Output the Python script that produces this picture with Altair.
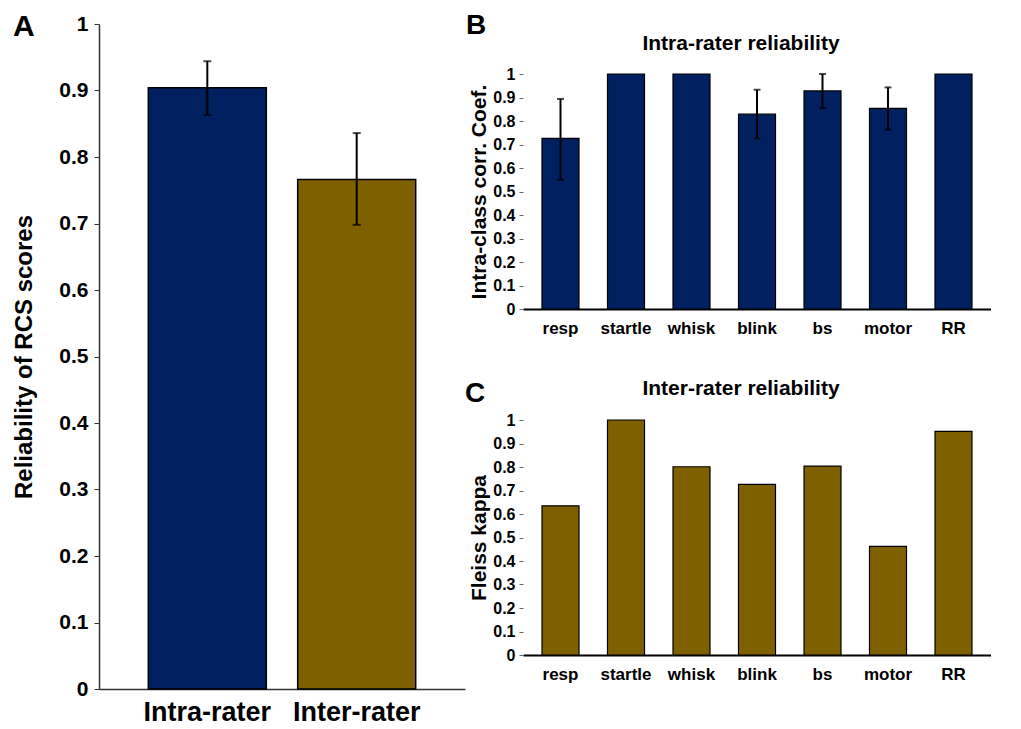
import altair as alt
import pandas as pd

# ---------------- data ----------------
cats_A = ["Intra-rater", "Inter-rater"]
vals_A = [0.904, 0.766]
lo_A = [0.863, 0.698]
hi_A = [0.944, 0.836]

cats = ["resp", "startle", "whisk", "blink", "bs", "motor", "RR"]
icc = [0.726, 1.0, 1.0, 0.829, 0.928, 0.854, 1.0]
icc_lo = [0.550, None, None, 0.726, 0.855, 0.763, None]
icc_hi = [0.894, None, None, 0.933, 1.0, 0.943, None]
kappa = [0.635, 1.0, 0.801, 0.726, 0.804, 0.462, 0.952]

NAVY = "#002060"
GOLD = "#7F6000"
FONT = "Liberation Sans"
ticks01 = [0, 0.1, 0.2, 0.3, 0.4, 0.5, 0.6, 0.7, 0.8, 0.9, 1]

dfA = pd.DataFrame({"cat": cats_A, "val": vals_A, "lo": lo_A, "hi": hi_A, "col": [NAVY, GOLD]})
dfB = pd.DataFrame({"cat": cats, "val": icc, "lo": icc_lo, "hi": icc_hi})
dfC = pd.DataFrame({"cat": cats, "val": kappa})

# ---------------- panel A ----------------
axisXA = alt.Axis(labelAngle=0, labelFontSize=27, labelFont=FONT, labelFontWeight="bold",
                  labelColor="black", ticks=False, domainColor="#333", domainWidth=1.5,
                  labelPadding=10)
axisYA = alt.Axis(values=ticks01, format="~g", labelFontSize=21, labelFont=FONT,
                  labelFontWeight="bold", labelColor="black", tickSize=5, tickColor="#333",
                  domainColor="#333", domainWidth=1.5, grid=False, labelPadding=6,
                  labelOverlap=False,
                  titleFontSize=24, titleFont=FONT, titleFontWeight="bold",
                  titleColor="black", titlePadding=22)


def xA():
    return alt.X("cat:N", sort=cats_A, title=None,
                 scale=alt.Scale(paddingInner=0.21, paddingOuter=0.33), axis=axisXA)


def yA(field):
    return alt.Y(field, title="Reliability of RCS scores",
                 scale=alt.Scale(domain=[0, 1], nice=False), axis=axisYA)


barsA = alt.Chart(dfA).mark_bar(stroke="black", strokeWidth=1.5).encode(
    x=xA(), y=yA("val:Q"), color=alt.Color("col:N", scale=None))
ruleA = alt.Chart(dfA).mark_rule(color="black", strokeWidth=2).encode(
    x=xA(), y=yA("lo:Q"), y2="hi:Q")
capLoA = alt.Chart(dfA).mark_tick(color="black", thickness=2, size=8, orient="horizontal").encode(
    x=xA(), y=yA("lo:Q"))
capHiA = alt.Chart(dfA).mark_tick(color="black", thickness=2, size=8, orient="horizontal").encode(
    x=xA(), y=yA("hi:Q"))
letterA = alt.Chart(pd.DataFrame({"t": ["A"]})).mark_text(
    font=FONT, fontWeight="bold", fontSize=30, align="left", baseline="alphabetic", color="black"
).encode(text="t:N", x=alt.value(-86), y=alt.value(12))

panelA = alt.layer(barsA, ruleA, capLoA, capHiA, letterA).properties(width=366, height=665)

# ---------------- shared axis styling for B and C ----------------
TOP = 50  # room above the plot area of panel B for title and letter
TOPC = 47

axisXS = alt.Axis(labelAngle=0, labelFontSize=17, labelFont=FONT, labelFontWeight="bold",
                  labelColor="black", ticks=False, domainColor="black", domainWidth=2,
                  labelPadding=11)


def x_small():
    return alt.X("cat:N", sort=cats, title=None,
                 scale=alt.Scale(paddingInner=0.435, paddingOuter=0.29), axis=axisXS)


def y_small(field, title, top):
    return alt.Y(field, title=title,
                 scale=alt.Scale(domain=[0, 1], nice=False, range=[235 + top, top]),
                 axis=alt.Axis(values=ticks01, format="~g", labelFontSize=16, labelFont=FONT,
                               labelFontWeight="bold", labelColor="black", tickSize=4,
                               tickColor="#666", domain=False, grid=False, labelPadding=4,
                               labelOverlap=False,
                               titleFontSize=21, titleFont=FONT, titleFontWeight="bold",
                               titleColor="black", titlePadding=3))


def text_mark(txt, size, x, y, align="left"):
    return alt.Chart(pd.DataFrame({"t": [txt]})).mark_text(
        font=FONT, fontWeight="bold", fontSize=size, align=align, baseline="alphabetic",
        color="black").encode(text="t:N", x=alt.value(x), y=alt.value(y))

# ---------------- panel B ----------------
TB = "Intra-class corr. Coef."
barsB = alt.Chart(dfB).mark_bar(color=NAVY, stroke="black", strokeWidth=1.2).encode(
    x=x_small(), y=y_small("val:Q", TB, TOP))
errB = dfB.dropna()
ruleB = alt.Chart(errB).mark_rule(color="black", strokeWidth=2).encode(
    x=x_small(), y=y_small("lo:Q", TB, TOP), y2="hi:Q")
capLoB = alt.Chart(errB).mark_tick(color="black", thickness=2, size=7, orient="horizontal").encode(
    x=x_small(), y=y_small("lo:Q", TB, TOP))
capHiB = alt.Chart(errB).mark_tick(color="black", thickness=2, size=7, orient="horizontal").encode(
    x=x_small(), y=y_small("hi:Q", TB, TOP))

panelB = alt.layer(
    barsB, ruleB, capLoB, capHiB,
    text_mark("B", 28, -57, 10),
    text_mark("Intra-rater reliability", 21, 218, 26, "center"),
).properties(width=468, height=235 + TOP)

# ---------------- panel C ----------------
barsC = alt.Chart(dfC).mark_bar(color=GOLD, stroke="black", strokeWidth=1.2).encode(
    x=x_small(), y=y_small("val:Q", "Fleiss kappa", TOPC))

panelC = alt.layer(
    barsC,
    text_mark("C", 28, -58, 29),
    text_mark("Inter-rater reliability", 21, 218, 22, "center"),
).properties(width=468, height=235 + TOPC)

right = alt.vconcat(panelB, panelC, spacing=37)
chart = alt.hconcat(panelA, right, spacing=0).properties(
    padding={"left": 12, "top": 12, "right": 0, "bottom": 0},
    background="white",
).configure_view(stroke=None)

chart.save("out.html", embed_options={"renderer": "svg", "actions": False})
